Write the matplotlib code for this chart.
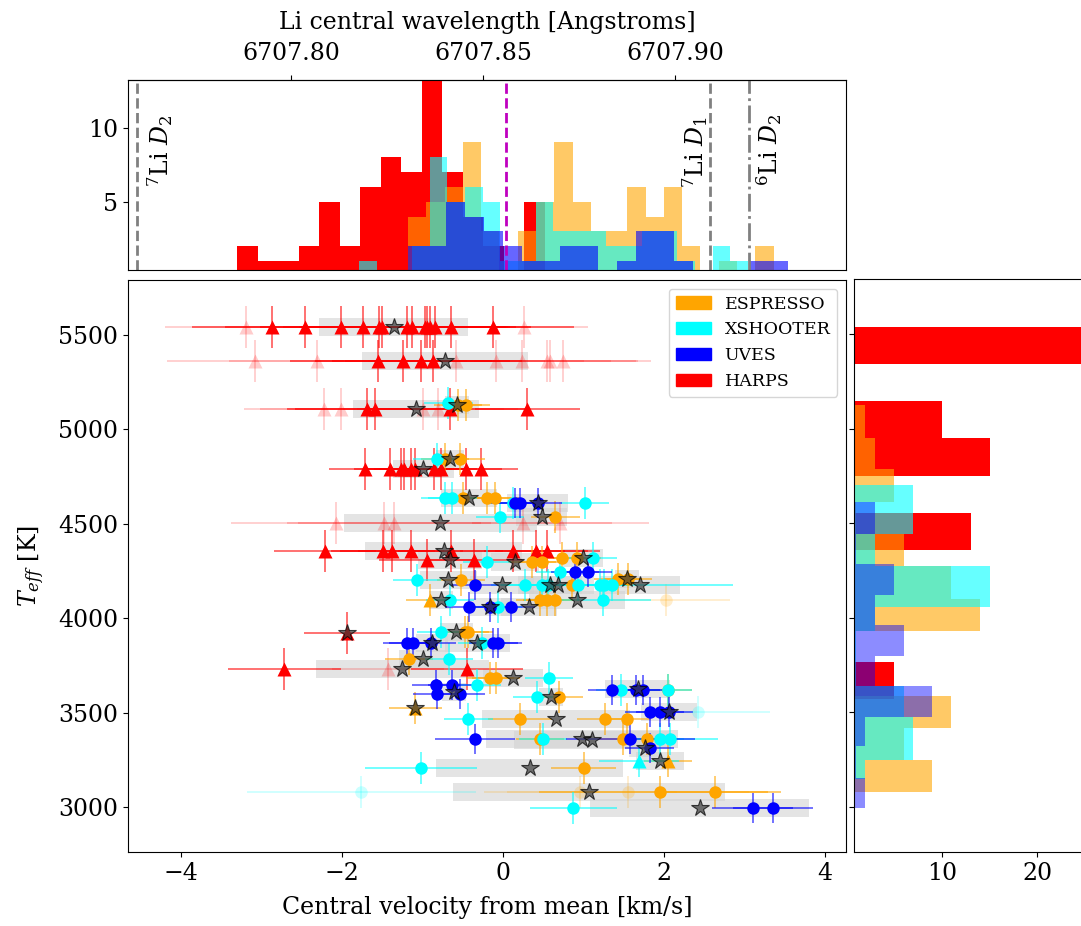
import numpy as np
import matplotlib
matplotlib.use('Agg')
import matplotlib.pyplot as plt
from matplotlib.patches import Patch

plt.rcParams['font.family'] = 'serif'
plt.rcParams['font.serif'] = ['DejaVu Serif']
plt.rcParams['mathtext.fontset'] = 'dejavuserif'
plt.rcParams['font.size'] = 17

# ---------------- data ----------------
instruments = ['ESPRESSO', 'XSHOOTER', 'UVES', 'HARPS']
inst_colors = ['orange', 'cyan', 'blue', 'red']

# HARPS (triangles)
harps_teff = [5542, 5542, 5542, 5542, 5542, 5542, 5542, 5542, 5542, 5542, 5542, 5542, 5542, 5542, 5542, 5542,
              5362, 5362, 5362, 5362, 5362, 5362, 5362, 5362, 5362, 5362, 5362, 5362,
              5108, 5108, 5108, 5108, 5108, 5108, 5108, 5108,
              4790, 4790, 4790, 4790, 4790, 4790, 4790, 4790, 4790, 4790,
              4504, 4504, 4504, 4504, 4504,
              4356, 4356, 4356, 4356, 4356, 4356, 4356, 4356,
              4308, 4308,
              3921,
              3731, 3731, 3731]
harps_vel = [-3.20, -2.87, -2.46, -2.02, -1.74, -1.54, -1.50, -1.20, -1.13, -0.97, -0.94, -0.91, -0.84, -0.65, -0.12, 0.26,
             -3.08, -2.31, -1.55, -1.24, -1.02, -0.87, -0.58, -0.09, 0.24, 0.55, 0.58, 0.74,
             -2.22, -2.02, -1.69, -1.59, -0.99, -0.81, -0.66, 0.30,
             -1.71, -1.40, -1.27, -1.23, -1.15, -1.09, -0.86, -0.77, -0.46, -0.27,
             -2.08, -1.48, -1.35, 0.25, 0.71,
             -2.21, -1.49, -1.38, -1.15, -0.65, 0.12, 0.41, 0.55,
             -0.94, -0.36,
             -1.94,
             -2.72, -1.43, -0.45]
harps_xerr = [1.0, 1.0, 1.0, 1.0, 1.0, 1.0, 1.0, 1.0, 1.0, 1.0, 1.0, 1.0, 1.0, 1.0, 1.0, 0.8,
              1.1, 1.1, 1.1, 1.1, 1.1, 1.1, 1.1, 1.1, 1.1, 1.1, 1.1, 1.1,
              1.0, 1.0, 1.0, 1.0, 1.0, 1.0, 1.0, 0.65,
              0.45, 0.45, 0.45, 0.45, 0.45, 0.45, 0.45, 0.45, 0.45, 0.45,
              1.3, 1.2, 1.2, 1.1, 1.1,
              0.63, 0.65, 0.65, 0.65, 0.65, 0.65, 0.65, 0.65,
              0.6, 0.6,
              0.53,
              0.7, 0.7, 0.7]
harps_faint = [1, 0, 0, 0, 0, 0, 0, 0, 0, 0, 0, 0, 0, 0, 0, 1,
               1, 1, 0, 0, 0, 0, 1, 1, 1, 1, 1, 1,
               1, 1, 0, 0, 1, 1, 0, 0,
               0, 0, 0, 0, 0, 0, 0, 0, 0, 0,
               1, 1, 1, 1, 1,
               0, 0, 0, 0, 0, 0, 0, 0,
               0, 0,
               0,
               0, 1, 0]

# ESPRESSO
esp_teff = [5129, 5129, 4843, 4843, 4637, 4637, 4637, 4536, 4297, 4297, 4319, 4319, 4208, 4208, 4202, 4176,
            4096, 4096, 4096, 4096, 4096, 3927, 3927, 3784, 3683, 3683, 3582, 3620, 3524, 3466, 3466, 3466,
            3360, 3360, 3360, 3243, 3206, 3079, 3079, 3079, 3079]
esp_vel = [-0.56, -0.46, -0.72, -0.53, -0.50, -0.20, -0.10, 0.65, 0.36, 0.48, 0.73, 0.92, 1.43, 1.55, -0.52, 0.86,
           -0.91, 0.46, 0.55, 0.65, 2.02, -0.47, -0.43, -1.17, -0.16, -0.09, 0.69, 2.05, -1.09, 0.21, 1.27, 1.54,
           0.46, 1.49, 1.79, 2.05, 1.00, 0.96, 1.55, 1.95, 2.63]
esp_xerr = [0.3, 0.3, 0.3, 0.3, 0.3, 0.3, 0.3, 0.3, 0.3, 0.3, 0.3, 0.3, 0.3, 0.3, 0.3, 0.3,
            0.3, 0.3, 0.3, 0.3, 0.8, 0.3, 0.3, 0.3, 0.3, 0.3, 0.3, 0.3, 0.33, 0.4, 0.35, 0.3,
            0.3, 0.3, 0.3, 0.3, 0.4, 1.2, 1.5, 1.5, 0.66]
esp_faint = [0, 0, 0, 0, 0, 0, 0, 0, 0, 0, 0, 0, 0, 0, 0, 0,
             0, 0, 0, 0, 1, 0, 0, 0, 0, 0, 0, 0, 0, 0, 0, 0,
             0, 0, 0, 0, 0, 1, 1, 0, 0]
esp_tri = [0, 0, 0, 0, 0, 0, 0, 0, 0, 0, 0, 0, 0, 0, 0, 0,
           1, 0, 0, 0, 0, 0, 0, 0, 0, 0, 0, 0, 1, 0, 0, 0,
           0, 0, 0, 1, 0, 0, 0, 0, 0]

# XSHOOTER
xs_teff = [5140, 4843, 4637, 4637, 4610, 4610, 4536, 4297, 4319, 4245, 4202, 4176, 4176, 4176, 4176, 4176,
           4176, 4176, 4096, 4096, 4059, 3927, 3868, 3784, 3683, 3646, 3582, 3620, 3620, 3503, 3466, 3360,
           3360, 3360, 3243, 3206, 3079, 2995]
xs_vel = [-0.68, -0.82, -0.72, -0.63, 0.12, 1.02, -0.04, -0.20, 1.12, 0.71, -1.07, 0.27, 0.48, 0.56, 0.93, 1.20,
          1.25, 1.35, -0.66, 1.24, -0.06, -0.77, -0.26, -0.67, 0.57, -0.33, 0.42, 1.46, 2.05, 2.42, -0.43, 0.50,
          1.95, 2.07, 1.69, -1.02, -1.76, 0.87]
xs_xerr = [0.3, 0.3, 0.3, 0.3, 0.3, 0.3, 0.3, 0.3, 0.3, 0.3, 0.3, 0.3, 0.3, 0.3, 0.3, 0.3,
           0.3, 1.5, 0.3, 0.6, 0.3, 0.3, 0.3, 0.3, 0.3, 0.3, 0.3, 0.3, 0.3, 0.9, 0.3, 0.3,
           0.3, 0.6, 0.5, 0.7, 1.42, 0.54]
xs_faint = [0, 0, 0, 0, 0, 0, 0, 0, 0, 0, 0, 0, 0, 0, 0, 0,
            0, 0, 0, 0, 0, 0, 0, 0, 0, 0, 0, 0, 0, 1, 0, 0,
            0, 0, 0, 0, 1, 0]
xs_tri = [0, 0, 0, 0, 0, 0, 0, 0, 0, 0, 0, 0, 0, 0, 0, 0,
          0, 0, 0, 0, 0, 0, 0, 0, 0, 0, 0, 0, 0, 0, 0, 0,
          0, 0, 1, 0, 0, 0]

# UVES
uv_teff = [4610, 4610, 4610, 4245, 4245, 4176, 4059, 4059, 4059, 3868, 3868, 3868, 3868, 3868, 3646,
           3646, 3600, 3600, 3620, 3620, 3620, 3503, 3503, 3503, 3360, 3360, 3312, 2995, 2995]
uv_vel = [0.15, 0.21, 0.43, 0.89, 1.05, -0.35, -0.42, -0.16, 0.10, -1.19, -1.12, -0.89, -0.12, -0.06, -0.83,
          -0.63, -0.82, -0.53, 1.35, 1.65, 1.74, 1.82, 1.95, 2.06, -0.35, 1.58, 1.82, 3.10, 3.35]
uv_xerr = [0.3, 0.3, 0.3, 0.3, 0.3, 0.3, 0.3, 0.3, 0.3, 0.3, 0.3, 0.3, 0.3, 0.3, 0.3,
           0.3, 0.3, 0.3, 0.3, 0.3, 0.3, 0.3, 0.3, 0.3, 0.5, 0.8, 0.3, 0.5, 0.5]

# per-star mean velocity (stars) and scatter (grey boxes)
star_teff = [5542, 5362, 5129, 5108, 4843, 4790, 4637, 4610, 4536, 4504, 4356, 4308, 4297, 4319, 4208,
             4202, 4176, 4176, 4176, 4176, 4096, 4096, 4059, 4059, 3927, 3921, 3868, 3868, 3784, 3731,
             3683, 3610, 3582, 3625, 3503, 3524, 3466, 3360, 3355, 3312, 3243, 3206, 3079, 2995]
star_mean = [-1.36, -0.72, -0.57, -1.08, -0.66, -0.99, -0.42, 0.43, 0.48, -0.78, -0.74, -0.66, 0.15, 0.99, 1.54,
             -0.68, -0.01, 0.58, 0.68, 1.70, -0.77, 0.92, -0.16, 0.32, -0.58, -1.94, -0.88, -0.32, -0.99, -1.25,
             0.12, -0.61, 0.60, 1.67, 2.06, -1.09, 0.66, 0.98, 1.10, 1.76, 1.95, 0.33, 1.07, 2.44]
star_std = [0.93, 1.03, 0.15, 0.78, 0.17, 0.38, 0.35, 0.38, 0.32, 1.20, 0.97, 0.40, 0.30, 0.25, 0.15,
            0.35, 0.40, 0.40, 0.45, 0.50, 0.15, 0.60, 0.25, 0.35, 0.20, 0.00, 0.20, 0.40, 0.30, 1.07,
            0.37, 0.15, 0.15, 0.40, 0.35, 0.00, 0.92, 1.19, 0.96, 0.20, 0.30, 1.16, 1.69, 1.36]

# top histogram (velocity) : bin start, bin width, counts
top_esp_start, top_esp_width = -1.18, 0.227
top_esp_counts = [4, 5, 6, 9, 3, 0, 3, 5, 9, 5, 3, 3, 6, 4, 6, 2, 0, 1, 0, 2]
top_xs_start, top_xs_width = -1.79, 0.2196
top_xs_counts = [1, 0, 0, 2, 8, 5, 6, 5, 1, 1, 5, 3, 3, 3, 2, 2, 3, 3, 1, 0, 2, 1]
top_uv_start, top_uv_width = -1.18, 0.2357
top_uv_counts = [2, 2, 5, 4, 3, 2, 1, 1, 2, 2, 0, 1, 3, 3, 1, 0, 0, 0, 1, 1]
top_harps_start, top_harps_width = -3.30, 0.2545
top_harps_counts = [2, 1, 1, 2, 5, 2, 6, 8, 7, 14, 7, 4, 2, 0, 5]

# right histogram (Teff): bin edges, counts
r_esp_edges = [3081, 3249, 3420, 3588, 3762, 3932, 4102, 4276, 4441, 4612, 4785, 4953, 5124]
r_esp_counts = [9, 6, 11, 0, 0, 14, 11, 6, 1, 5, 3, 2]
r_xs_edges = [3150, 3249, 3478, 3640, 3800, 3932, 4059, 4273, 4441, 4546, 4700]
r_xs_counts = [2, 7, 6, 1, 1, 3, 15, 3, 7, 7]
r_uv_edges = [2995, 3153, 3320, 3478, 3637, 3800, 3964, 4123, 4282, 4441, 4612]
r_uv_counts = [2, 1, 2, 9, 3, 6, 3, 5, 1, 3]
r_harps_edges = [3569, 3766, 3963, 4160, 4357, 4554, 4751, 4948, 5145, 5342, 5539]
r_harps_counts = [5, 0, 0, 0, 13, 0, 15, 10, 0, 27]

# reference lines (velocity) and wavelength mapping
li7_d2_vel, li7_d1_vel, li6_d2_vel, mean_vel = -4.55, 2.57, 3.05, 0.04
lam_ref, lam_per_kms = 6707.8552, 0.02099

# ---------------- figure ----------------
W, H = 1081, 926
fig = plt.figure(figsize=(W / 100, H / 100), dpi=100)


def frac(l, t, r, b):
    return [l / W, 1 - b / H, (r - l) / W, (b - t) / H]


ax = fig.add_axes(frac(128, 280, 846, 852))
axt = fig.add_axes(frac(128, 80, 846, 270), sharex=ax)
axr = fig.add_axes(frac(854, 279, 1100, 852), sharey=ax)

# grey boxes and mean stars
sm = np.array(star_mean); ss = np.array(star_std); st = np.array(star_teff)
ax.barh(st, 2 * ss, left=sm - ss, height=95, color='lightgrey', alpha=0.6, lw=0, zorder=1)


def draw_points(teff, vel, xerr, yerr, faint, tri, color):
    teff = np.array(teff, float); vel = np.array(vel, float); xerr = np.array(xerr, float)
    faint = np.array(faint, bool); tri = np.array(tri, bool)
    for fm, a_line, a_mark in [(~faint, 0.6, 1.0), (faint, 0.2, 0.2)]:
        if fm.sum() == 0:
            continue
        ax.errorbar(vel[fm], teff[fm], xerr=xerr[fm], yerr=yerr, fmt='none', ecolor=color,
                    elinewidth=1.3, alpha=a_line, zorder=2)
        for mk, tm, ms in [('o', ~tri, 9), ('^', tri, 10)]:
            m = fm & tm
            if m.sum():
                ax.plot(vel[m], teff[m], ls='none', marker=mk, ms=ms, color=color, mec='none',
                        alpha=a_mark, zorder=3)


draw_points(harps_teff, harps_vel, harps_xerr, 110, harps_faint, [1] * len(harps_teff), 'red')
draw_points(esp_teff, esp_vel, esp_xerr, 85, esp_faint, esp_tri, 'orange')
draw_points(xs_teff, xs_vel, xs_xerr, 85, xs_faint, xs_tri, 'cyan')
draw_points(uv_teff, uv_vel, uv_xerr, 80, [0] * len(uv_teff), [0] * len(uv_teff), 'blue')

ax.plot(sm, st, ls='none', marker='*', ms=13, mfc='#3a3a3a', mec='black', mew=0.8, alpha=0.7, zorder=4)

ax.set_xlim(-4.66, 4.26)
ax.set_ylim(2762, 5791)
ax.set_xticks([-4, -2, 0, 2, 4])
ax.set_yticks([3000, 3500, 4000, 4500, 5000, 5500])
ax.set_xlabel('Central velocity from mean [km/s]', labelpad=8)
ax.set_ylabel(r'$T_{eff}$ [K]', labelpad=8)
handles = [Patch(color=c, label=n) for n, c in zip(instruments, inst_colors)]
ax.legend(handles=handles, loc='upper right', fontsize=12.5)

# top histogram
for start, width, counts, color, alpha in [
        (top_harps_start, top_harps_width, top_harps_counts, 'red', 1.0),
        (top_esp_start, top_esp_width, top_esp_counts, 'orange', 0.6),
        (top_xs_start, top_xs_width, top_xs_counts, 'cyan', 0.6),
        (top_uv_start, top_uv_width, top_uv_counts, 'blue', 0.6)]:
    lefts = start + width * np.arange(len(counts))
    axt.bar(lefts, counts, width=width, align='edge', color=color, alpha=alpha, lw=0)

axt.axvline(li7_d2_vel, color='grey', ls='--', lw=2)
axt.axvline(li7_d1_vel, color='grey', ls='--', lw=2)
axt.axvline(li6_d2_vel, color='grey', ls='-.', lw=2)
axt.axvline(mean_vel, color='m', ls='--', lw=2)
axt.text(-4.26, 8.4, r'$^7$Li $D_2$', rotation=90, ha='center', va='center', fontsize=17)
axt.text(2.39, 8.3, r'$^7$Li $D_1$', rotation=90, ha='center', va='center', fontsize=17)
axt.text(3.31, 8.5, r'$^6$Li $D_2$', rotation=90, ha='center', va='center', fontsize=17)
axt.set_ylim(0.4, 13.2)
axt.set_yticks([5, 10])
axt.tick_params(axis='x', bottom=False, labelbottom=False)

sec = axt.secondary_xaxis('top', functions=(lambda v: lam_ref + lam_per_kms * v,
                                            lambda l: (l - lam_ref) / lam_per_kms))
sec.set_xticks([6707.80, 6707.85, 6707.90])
sec.set_xticklabels(['6707.80', '6707.85', '6707.90'])
sec.tick_params(axis='x', pad=7)
sec.set_xlabel('Li central wavelength [Angstroms]', labelpad=10)

# right histogram
for edges, counts, color, alpha in [
        (r_harps_edges, r_harps_counts, 'red', 1.0),
        (r_esp_edges, r_esp_counts, 'orange', 0.6),
        (r_xs_edges, r_xs_counts, 'cyan', 0.6),
        (r_uv_edges, r_uv_counts, 'blue', 0.45)]:
    e = np.array(edges, float)
    axr.barh(e[:-1], counts, height=np.diff(e), align='edge', color=color, alpha=alpha, lw=0)
axr.set_xlim(0.8, 26.56)
axr.set_xticks([10, 20])
axr.tick_params(axis='y', labelleft=False)

fig.savefig('out.png', dpi=100)
